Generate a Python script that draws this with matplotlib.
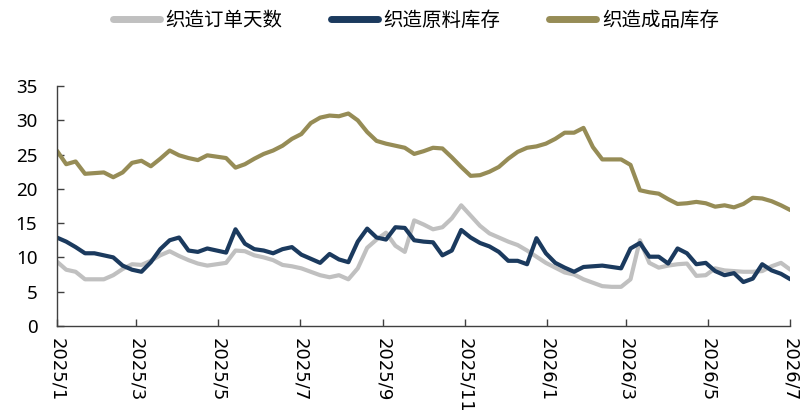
import matplotlib
matplotlib.use("Agg")
import matplotlib.pyplot as plt
import pandas as pd

plt.rcParams['font.family'] = ['Noto Sans CJK SC', 'DejaVu Sans']

dates = pd.date_range('2025-01-03', periods=79, freq='7D')

order_days = [9.4, 8.2, 7.9, 6.8, 6.8, 6.8, 7.4, 8.3, 9.0, 8.9,
              9.5, 10.3, 10.9, 10.2, 9.6, 9.1, 8.8, 9.0, 9.2, 11.0,
              10.9, 10.3, 10.0, 9.6, 8.9, 8.7, 8.4, 7.9, 7.4, 7.1,
              7.4, 6.8, 8.4, 11.4, 12.6, 13.6, 11.7, 10.8, 15.4, 14.8,
              14.1, 14.4, 15.7, 17.6, 16.1, 14.6, 13.5, 12.9, 12.3, 11.8,
              11.0, 10.1, 9.2, 8.5, 7.8, 7.5, 6.8, 6.3, 5.8, 5.7,
              5.7, 6.8, 12.5, 9.2, 8.5, 8.8, 9.0, 9.1, 7.3, 7.4,
              8.4, 8.1, 8.0, 7.9, 7.9, 8.0, 8.7, 9.2, 8.2]

raw_stock = [12.9, 12.3, 11.5, 10.6, 10.6, 10.3, 10.0, 8.8, 8.2, 7.9,
             9.3, 11.2, 12.5, 12.9, 11.0, 10.8, 11.3, 11.0, 10.7, 14.1,
             12.0, 11.2, 11.0, 10.6, 11.2, 11.5, 10.4, 9.8, 9.2, 10.5,
             9.7, 9.3, 12.3, 14.2, 12.9, 12.6, 14.4, 14.3, 12.5, 12.3,
             12.2, 10.3, 11.0, 14.0, 12.9, 12.1, 11.6, 10.8, 9.5, 9.5,
             9.0, 12.8, 10.6, 9.2, 8.5, 7.9, 8.6, 8.7, 8.8, 8.6,
             8.4, 11.3, 12.1, 10.1, 10.1, 9.1, 11.3, 10.6, 9.0, 9.2,
             8.0, 7.4, 7.7, 6.4, 6.9, 9.0, 8.1, 7.6, 6.8]

finished_stock = [25.6, 23.6, 24.0, 22.2, 22.3, 22.4, 21.7, 22.4, 23.8, 24.1,
                  23.3, 24.4, 25.6, 24.9, 24.5, 24.2, 24.9, 24.7, 24.5, 23.1,
                  23.6, 24.4, 25.1, 25.6, 26.3, 27.3, 28.0, 29.6, 30.4, 30.7,
                  30.6, 31.0, 30.0, 28.3, 27.0, 26.6, 26.3, 26.0, 25.1, 25.5,
                  26.0, 25.9, 24.6, 23.2, 21.9, 22.0, 22.5, 23.2, 24.4, 25.4,
                  26.0, 26.2, 26.6, 27.3, 28.2, 28.2, 28.9, 26.1, 24.3, 24.3,
                  24.3, 23.5, 19.8, 19.5, 19.3, 18.5, 17.8, 17.9, 18.1, 17.9,
                  17.4, 17.6, 17.3, 17.8, 18.7, 18.6, 18.2, 17.6, 16.9]

series_names = ['织造订单天数', '织造原料库存', '织造成品库存']
series_colors = ['#C0C0C0', '#1B3A5E', '#968C56']

tick_labels = ['2025/1', '2025/3', '2025/5', '2025/7', '2025/9',
               '2025/11', '2026/1', '2026/3', '2026/5', '2026/7']
tick_dates = pd.date_range('2025-01-03', periods=len(tick_labels),
                           freq=pd.DateOffset(months=2))

fig = plt.figure(figsize=(8, 4.12), dpi=100)
ax = fig.add_axes([0.071, 0.209, 0.917, 0.582])

for vals, name, col in zip([order_days, raw_stock, finished_stock], series_names, series_colors):
    ax.plot(dates, vals, color=col, lw=3.0, label=name, solid_capstyle='round',
            solid_joinstyle='round')

ax.set_xlim(dates[0], dates[-1])
ax.set_ylim(0, 35)
ax.set_yticks(range(0, 36, 5))
ax.set_xticks(tick_dates)
ax.set_xticklabels(tick_labels, rotation=270, fontsize=13, family=['DejaVu Sans'])
for lbl in ax.get_yticklabels():
    lbl.set_fontsize(13.5)
    lbl.set_family(['Noto Sans', 'DejaVu Sans'])

for s in ['top', 'right']:
    ax.spines[s].set_visible(False)
for s in ['left', 'bottom']:
    ax.spines[s].set_color('#404040')
    ax.spines[s].set_linewidth(1.0)
ax.tick_params(axis='both', direction='in', length=5, width=1, color='#404040',
               labelcolor='#000000')
ax.tick_params(axis='x', pad=9)
ax.tick_params(axis='y', pad=14)

leg = fig.legend(loc='center', bbox_to_anchor=(0.52, 0.951), ncol=3, frameon=False,
                 fontsize=14, handlelength=2.4, handletextpad=0.3, columnspacing=2.5)
for h in leg.get_lines():
    h.set_linewidth(5)

fig.savefig('out.png', dpi=100)
